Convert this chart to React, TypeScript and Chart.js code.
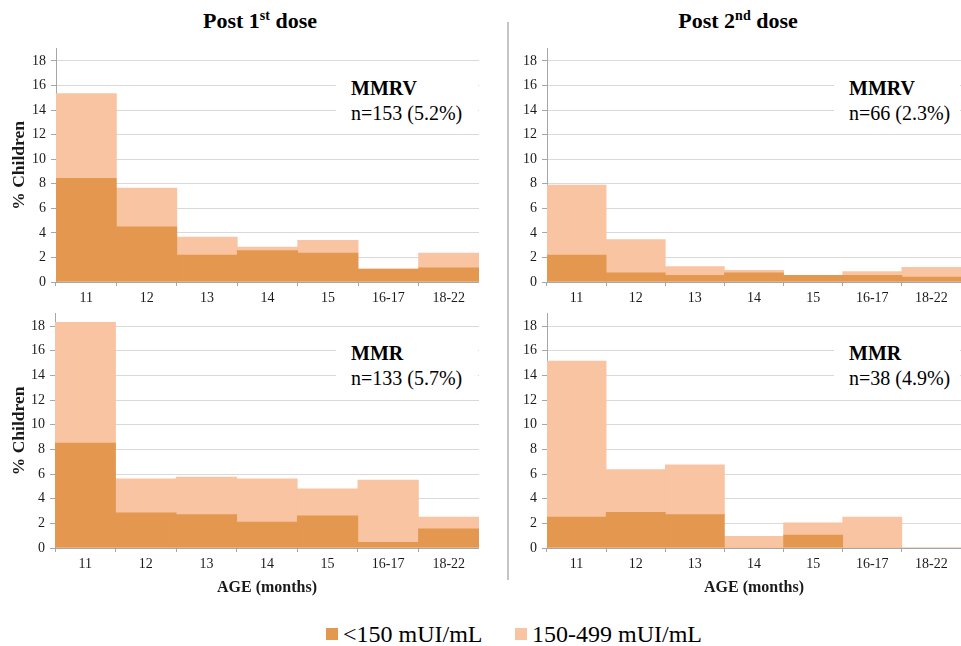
import React, { useEffect, useRef } from 'react';
import { Chart, registerables } from 'chart.js';

Chart.register(...registerables);

// ---- data ----
const ageLabels = ['11', '12', '13', '14', '15', '16-17', '18-22'];
const seriesNames = ['<150 mUI/mL', '150-499 mUI/mL'];
const seriesColors = ['#E3974F', '#F8C4A2'];

// MMRV, post 1st dose
const mmrvDose1Low = [8.45, 4.5, 2.2, 2.55, 2.35, 1.05, 1.15];
const mmrvDose1Mid = [6.9, 3.15, 1.45, 0.3, 1.05, 0, 1.2];
// MMRV, post 2nd dose
const mmrvDose2Low = [2.2, 0.75, 0.55, 0.75, 0.55, 0.55, 0.4];
const mmrvDose2Mid = [5.7, 2.7, 0.7, 0.2, 0, 0.3, 0.8];
// MMR, post 1st dose
const mmrDose1Low = [8.5, 2.85, 2.7, 2.1, 2.6, 0.45, 1.55];
const mmrDose1Mid = [9.8, 2.75, 3.05, 3.5, 2.2, 5.05, 0.95];
// MMR, post 2nd dose
const mmrDose2Low = [2.5, 2.9, 2.7, 0, 1.05, 0, 0];
const mmrDose2Mid = [12.65, 3.45, 4.05, 0.95, 1.0, 2.5, 0];

const yMin = 0;
const yMax = 19;
const yStep = 2;
const yAxisTitle = '% Children';
const xAxisTitle = 'AGE (months)';

const SERIF = '"Liberation Serif", "Times New Roman", Times, serif';
const GRID = '#d9d9d9';
const AXIS = '#a6a6a6';
const TEXT = '#1a1a1a';

type PanelProps = {
  left: number;
  top: number;
  width: number;
  height: number;
  low: number[];
  mid: number[];
  yW: number;
  padTop: number;
  xH: number;
  showYTitle: boolean;
  showXTitle: boolean;
};

function Panel(p: PanelProps) {
  const ref = useRef<HTMLCanvasElement | null>(null);
  useEffect(() => {
    if (!ref.current) return;
    const chart = new Chart(ref.current, {
      type: 'bar',
      data: {
        labels: ageLabels,
        datasets: [
          { label: seriesNames[0], data: p.low, backgroundColor: seriesColors[0], borderWidth: 0, barPercentage: 1, categoryPercentage: 1 },
          { label: seriesNames[1], data: p.mid, backgroundColor: seriesColors[1], borderWidth: 0, barPercentage: 1, categoryPercentage: 1 },
        ],
      },
      options: {
        responsive: false,
        animation: false,
        layout: { padding: { top: p.padTop, left: 0, right: 0, bottom: 0 } },
        plugins: { legend: { display: false }, tooltip: { enabled: false } },
        scales: {
          x: {
            stacked: true,
            grid: { offset: true, drawOnChartArea: false, drawTicks: true, tickLength: 4, color: AXIS },
            border: { color: AXIS, width: 1 },
            ticks: { font: { family: SERIF, size: 14 }, color: TEXT, padding: 4, maxRotation: 0, autoSkip: false },
            title: {
              display: p.showXTitle,
              text: xAxisTitle,
              font: { family: SERIF, size: 16, weight: 'bold' },
              color: TEXT,
              padding: { top: 0, bottom: 3 },
            },
            afterFit: (s: any) => {
              s.height = p.xH;
              s.paddingLeft = 0;
              s.paddingRight = 0;
            },
          },
          y: {
            stacked: true,
            min: yMin,
            max: yMax,
            ticks: { stepSize: yStep, includeBounds: false, font: { family: SERIF, size: 14 }, color: TEXT, padding: 5 },
            grid: { color: GRID, tickColor: AXIS, tickLength: 5 },
            border: { color: AXIS, width: 1 },
            title: {
              display: p.showYTitle,
              text: yAxisTitle,
              font: { family: SERIF, size: 17.5, weight: 'bold' },
              color: TEXT,
              padding: { top: 9, bottom: 0 },
            },
            afterFit: (s: any) => {
              s.width = p.yW;
              s.paddingTop = 0;
              s.paddingBottom = 0;
            },
          },
        },
      } as any,
    });
    return () => chart.destroy();
  }, []);
  return (
    <canvas
      ref={ref}
      width={p.width}
      height={p.height}
      style={{ position: 'absolute', left: p.left, top: p.top, width: p.width, height: p.height }}
    />
  );
}

function Note({ left, top, width, name, n }: { left: number; top: number; width: number; name: string; n: string }) {
  return (
    <div
      style={{
        position: 'absolute',
        left,
        top,
        width,
        height: 62,
        background: '#fff',
        boxSizing: 'border-box',
        paddingTop: 10,
        paddingLeft: 15,
        fontFamily: SERIF,
        fontSize: 20,
        lineHeight: '25px',
        color: '#000',
        whiteSpace: 'nowrap',
      }}
    >
      <div style={{ fontWeight: 'bold' }}>{name}</div>
      <div>{n}</div>
    </div>
  );
}

function Title({ cx, main, sup }: { cx: number; main: string; sup: string }) {
  return (
    <div
      style={{
        position: 'absolute',
        left: cx - 120,
        top: 8,
        width: 240,
        textAlign: 'center',
        fontFamily: SERIF,
        fontSize: 22,
        fontWeight: 'bold',
        lineHeight: '26px',
        color: '#000',
      }}
    >
      Post {main}
      <sup style={{ fontSize: 14, lineHeight: 0, verticalAlign: 'super' }}>{sup}</sup> dose
    </div>
  );
}

export default function App() {
  return (
    <div style={{ position: 'absolute', left: 0, top: 0, width: 961, height: 646, background: '#fff', overflow: 'hidden' }}>
      <Title cx={260} main="1" sup="st" />
      <Title cx={738} main="2" sup="nd" />
      <div style={{ position: 'absolute', left: 507, top: 22, width: 2, height: 558, background: '#c4c4c4' }} />

      <Panel left={0} top={40} width={479} height={280} low={mmrvDose1Low} mid={mmrvDose1Mid} yW={56} padTop={8.7} xH={38} showYTitle={true} showXTitle={false} />
      <Panel left={490} top={40} width={471} height={280} low={mmrvDose2Low} mid={mmrvDose2Mid} yW={57} padTop={8.7} xH={38} showYTitle={false} showXTitle={false} />
      <Panel left={0} top={306} width={479} height={294} low={mmrDose1Low} mid={mmrDose1Mid} yW={55} padTop={7.7} xH={52} showYTitle={true} showXTitle={true} />
      <Panel left={490} top={306} width={471} height={294} low={mmrDose2Low} mid={mmrDose2Mid} yW={57} padTop={7.7} xH={52} showYTitle={false} showXTitle={true} />

      <Note left={336} top={66} width={142} name="MMRV" n="n=153 (5.2%)" />
      <Note left={834} top={66} width={126} name="MMRV" n="n=66 (2.3%)" />
      <Note left={336} top={331} width={142} name="MMR" n="n=133 (5.7%)" />
      <Note left={834} top={331} width={126} name="MMR" n="n=38 (4.9%)" />

      <div style={{ position: 'absolute', left: 326, top: 628, width: 12, height: 12, background: seriesColors[0] }} />
      <div style={{ position: 'absolute', left: 343, top: 619, fontFamily: SERIF, fontSize: 24, lineHeight: '30px', color: '#000', whiteSpace: 'nowrap' }}>
        {seriesNames[0]}
      </div>
      <div style={{ position: 'absolute', left: 515, top: 628, width: 12, height: 12, background: seriesColors[1] }} />
      <div style={{ position: 'absolute', left: 532, top: 619, fontFamily: SERIF, fontSize: 24, lineHeight: '30px', color: '#000', whiteSpace: 'nowrap' }}>
        {seriesNames[1]}
      </div>
    </div>
  );
}
